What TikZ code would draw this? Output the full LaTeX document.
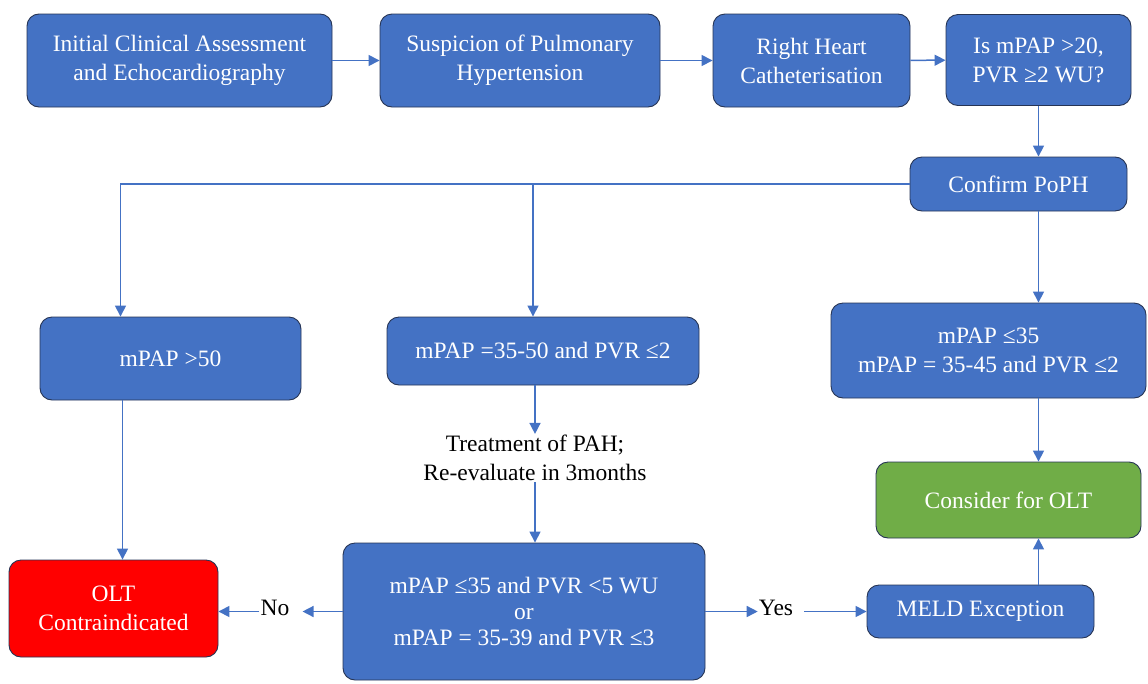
\documentclass[tikz,border=0pt]{standalone}
\usepackage{fontspec}
\setmainfont{Liberation Serif}
\usetikzlibrary{arrows.meta,calc}
\definecolor{boxblue}{RGB}{68,114,196}
\definecolor{boxedge}{RGB}{38,52,84}
\definecolor{okgreen}{RGB}{112,173,71}
\definecolor{stopred}{RGB}{255,0,0}
\definecolor{lineblue}{RGB}{68,114,196}

\begin{document}
\begin{tikzpicture}[x=1pt,y=-1pt,
    flowbox/.style={draw=boxedge,fill=boxblue,text=white,rounded corners=12pt,line width=0.9pt,
      align=center,inner sep=0pt,font=\fontsize{23.5}{29}\selectfont},
    flowarrow/.style={draw=lineblue,line width=1.5pt,-{Triangle[width=11pt,length=11pt]}},
    plaintext/.style={align=center,inner sep=1pt,font=\fontsize{23.5}{29}\selectfont}]
    \useasboundingbox (0,0) rectangle (1148,683);
    % top row
    \node[flowbox,minimum width=305pt,minimum height=93pt] (init) at (179.5,60.5) {Initial Clinical Assessment\\and Echocardiography};
    \node[flowbox,minimum width=280pt,minimum height=93pt] (susp) at (520,60.5) {Suspicion of Pulmonary\\Hypertension};
    \node[flowbox,minimum width=197pt,minimum height=93pt] (rhc) at (811.5,60.5) {Right Heart\\Catheterisation};
    \node[flowbox,minimum width=185pt,minimum height=91pt] (ismpap) at (1038.5,60) {Is mPAP >20,\\PVR ≥2 WU?};
    \node[flowbox,minimum width=217pt,minimum height=54pt] (confirm) at (1018.5,184) {Confirm PoPH};
    % severity classes
    \node[flowbox,minimum width=261pt,minimum height=83pt] (gt50) at (170.5,358.5) {mPAP >50};
    \node[flowbox,minimum width=312pt,minimum height=68pt] (mid) at (543,351) {mPAP =35-50 and PVR ≤2};
    \node[flowbox,minimum width=315pt,minimum height=95pt] (low) at (988.5,350.5) {mPAP ≤35\\mPAP = 35-45 and PVR ≤2};
    \node[plaintext] (treat) at (535,458) {Treatment of PAH;\\Re-evaluate in 3months};
    % outcomes
    \node[flowbox,minimum width=362pt,minimum height=137pt,font=\fontsize{23.5}{26}\selectfont] (crit) at (524,611.5) {mPAP ≤35 and PVR <5 WU\\or\\mPAP = 35-39 and PVR ≤3};
    \node[flowbox,fill=stopred,minimum width=209pt,minimum height=97pt] (olt) at (113.5,608.5) {OLT\\Contraindicated};
    \node[flowbox,fill=okgreen,minimum width=265pt,minimum height=76pt] (consider) at (1008.5,500) {Consider for OLT};
    \node[flowbox,minimum width=227pt,minimum height=53pt] (meld) at (980.5,611.5) {MELD Exception};
    \node[plaintext] (no) at (275,608) {No};
    \node[plaintext] (yes) at (776,608) {Yes};
    % connectors
    \draw[flowarrow] (init) -- (susp);
    \draw[flowarrow] (susp) -- (rhc);
    \draw[flowarrow] (rhc) -- (ismpap);
    \draw[flowarrow] (ismpap.south) -- (ismpap.south |- confirm.north);
    \draw[flowarrow] (confirm.west) -| ([xshift=-50pt]gt50.north);
    \draw[flowarrow] ([xshift=-10pt]mid.north |- confirm.west) -- ([xshift=-10pt]mid.north);
    \draw[flowarrow] (ismpap.south |- confirm.south) -- (ismpap.south |- low.north);
    \draw[flowarrow] (treat.north |- mid.south) -- (treat.north);
    \draw[flowarrow] (treat.south) -- (treat.south |- crit.north);
    \draw[flowarrow] ([xshift=-48pt]gt50.south) -- ([xshift=-48pt]gt50.south |- olt.north);
    \draw[flowarrow] (ismpap.south |- low.south) -- (ismpap.south |- consider.north);
    \draw[flowarrow] (crit.west) -- ([xshift=12pt]crit.west -| no.east);
    \draw[flowarrow] (crit.west -| no.west) -- (crit.west -| olt.east);
    \draw[flowarrow] (crit.east) -- (crit.east -| yes.west);
    \draw[flowarrow] ([xshift=10pt]crit.east -| yes.east) -- (crit.east -| meld.west);
    \draw[flowarrow] (ismpap.south |- meld.north) -- (ismpap.south |- consider.south);
\end{tikzpicture}
\end{document}
